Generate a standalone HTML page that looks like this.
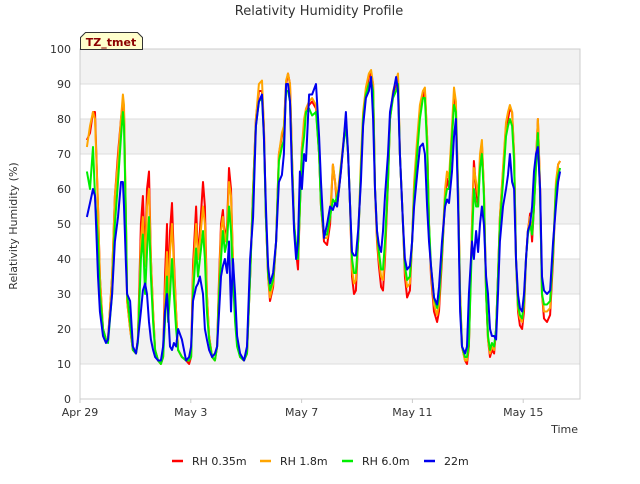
<!DOCTYPE html>
<html><head><meta charset="utf-8">
<style>
body{margin:0;background:#fff;width:640px;height:480px;overflow:hidden;font-family:"DejaVu Sans","Liberation Sans",sans-serif;}
svg text{font-family:"DejaVu Sans","Liberation Sans",sans-serif;}
</style></head><body>
<svg id="chart" width="640" height="480">
<text x="319" y="15" text-anchor="middle" font-size="13" fill="#333">Relativity Humidity Profile</text>
<g id="bands"></g><g id="grid"></g>
<rect x="80" y="49" width="500" height="350" fill="none" stroke="#ccc"/>
<g id="yticks"></g><g id="xticks"></g>
<g id="series"></g>
<text transform="translate(17,226) rotate(-90)" text-anchor="middle" font-size="11" fill="#333">Relativity Humidity (%)</text>
<text x="578" y="433" text-anchor="end" font-size="11" fill="#333">Time</text>
<g>
<path d="M80.5,49.5 L80.5,37.5 L85.5,32.5 L137.5,32.5 L142.5,37.5 L142.5,49.5 Z" fill="#ffffcc" stroke="#333"/>
<text x="111" y="46" text-anchor="middle" font-size="11" font-weight="bold" fill="#8b0000">TZ_tmet</text>
</g>
<g id="legend"></g>
</svg>
<script>
const days=[.25,.36,.47,.54,.65,.72,.83,.94,1.01,1.16,1.26,1.37,1.48,1.55,1.59,1.66,1.70,1.81,1.91,2.02,2.09,2.20,2.27,2.35,2.42,2.49,2.56,2.64,2.71,2.82,2.92,3.00,3.07,3.14,3.18,3.25,3.32,3.39,3.47,3.54,3.68,3.83,3.94,4.01,4.08,4.19,4.26,4.33,4.44,4.51,4.58,4.66,4.77,4.87,4.95,5.02,5.09,5.16,5.23,5.31,5.38,5.45,5.52,5.60,5.67,5.78,5.92,6.03,6.14,6.25,6.35,6.46,6.57,6.64,6.71,6.79,6.86,6.97,7.08,7.18,7.29,7.36,7.44,7.51,7.58,7.65,7.73,7.80,7.87,7.94,8.01,8.09,8.16,8.27,8.38,8.52,8.63,8.70,8.81,8.92,9.03,9.13,9.21,9.28,9.35,9.42,9.53,9.60,9.68,9.75,9.82,9.89,9.96,10.04,10.14,10.22,10.32,10.43,10.51,10.58,10.65,10.72,10.79,10.87,10.94,11.01,11.12,11.19,11.30,11.41,11.48,11.55,11.66,11.73,11.81,11.91,11.99,12.06,12.17,12.27,12.38,12.45,12.53,12.60,12.67,12.78,12.89,12.96,13.07,13.18,13.25,13.32,13.43,13.50,13.57,13.65,13.72,13.79,13.90,13.97,14.04,14.15,14.22,14.30,14.37,14.44,14.51,14.58,14.66,14.73,14.80,14.87,14.95,15.02,15.09,15.16,15.27,15.38,15.45,15.52,15.60,15.67,15.74,15.81,15.88,15.96,16.03,16.10,16.17,16.25,16.32,16.39,16.46,16.53,16.61,16.68,16.75,16.86,16.97,17.08,17.18,17.26,17.33];
const rh035=[74,76,82,82,55,35,20,17,17,35,58,70,80,85,82,50,28,20,14,13,17,50,58,40,60,65,40,25,14,11,10,12,35,50,30,48,56,40,25,14,12,11,10,12,38,55,40,48,62,55,30,18,12,11,15,35,50,54,45,50,66,60,40,25,16,12,11,13,35,60,80,88,88,78,52,35,28,32,45,70,75,77,90,93,90,70,50,42,37,55,72,78,82,84,85,83,70,55,45,44,50,67,62,55,60,65,75,80,70,55,35,30,31,45,65,80,88,92,93,90,60,45,38,32,31,40,62,80,87,90,92,70,50,35,29,31,45,60,72,82,86,88,75,50,35,25,22,25,40,58,63,60,75,86,82,60,30,15,11,10,15,50,68,60,55,68,73,60,30,17,12,14,13,20,35,52,65,78,80,83,82,70,40,25,21,20,25,40,48,53,45,55,68,80,60,30,23,22,24,40,60,67,68];
const rh18=[72,78,82,80,55,35,20,17,17,35,58,68,80,87,84,50,28,20,14,13,17,45,52,38,55,60,40,25,14,11,10,12,30,42,28,42,50,38,25,14,12,11,11,12,35,50,40,45,55,50,30,18,12,11,15,33,48,52,45,48,62,58,40,25,16,12,11,13,35,60,80,90,91,78,52,35,29,33,45,70,76,78,91,93,90,70,50,43,40,55,72,80,83,85,86,84,70,55,46,46,52,67,62,57,62,67,75,80,70,55,37,33,34,45,68,82,89,93,94,90,60,46,40,35,34,42,64,80,88,91,93,70,50,37,32,33,45,62,74,84,88,89,75,50,36,27,24,27,42,60,65,63,78,89,85,60,30,15,11,11,16,50,66,62,58,70,74,60,30,17,13,15,14,20,35,52,66,79,82,84,82,70,40,26,23,22,27,40,48,52,47,55,68,80,60,30,25,25,26,42,62,67,68];
const rh60=[65,60,72,58,45,30,20,17,16,30,50,62,75,82,78,50,30,22,14,13,16,40,47,30,42,52,35,22,14,11,10,12,22,35,22,30,40,30,20,14,12,11,11,12,30,43,35,40,48,40,25,17,12,11,15,30,40,48,42,45,55,48,35,22,15,12,11,13,35,58,78,85,86,75,52,36,31,34,45,68,72,74,88,88,85,68,50,44,40,55,70,75,82,83,81,82,70,55,47,47,52,57,56,58,60,66,74,78,70,55,40,36,36,45,65,80,87,90,91,88,60,48,42,37,37,45,62,80,86,88,90,70,50,38,34,35,45,58,70,80,86,86,72,50,38,29,26,29,42,57,60,60,75,84,82,58,28,15,12,12,16,45,60,55,55,66,70,58,30,18,14,16,15,20,35,50,62,75,78,80,78,68,40,27,24,23,28,40,47,50,47,55,66,76,58,30,27,27,28,42,60,64,66];
const rh22=[52,56,60,58,35,25,18,16,17,30,45,52,62,62,55,38,30,28,15,13,17,25,31,33,30,22,17,14,12,11,11,15,25,30,25,15,14,16,15,20,17,11,12,15,28,32,33,35,30,20,17,14,12,13,15,25,35,38,40,36,45,25,40,30,18,13,11,15,40,52,78,85,87,75,55,38,33,36,45,62,64,70,90,90,85,65,48,40,45,65,60,70,68,87,87,90,75,62,46,50,55,54,56,55,60,65,75,82,70,55,42,41,41,48,62,78,86,88,92,80,60,48,44,42,48,58,70,82,87,92,88,70,50,40,37,38,45,55,64,72,73,70,55,45,38,29,27,32,45,55,57,56,65,75,80,55,25,15,13,15,30,45,40,48,42,50,55,50,35,30,20,18,18,17,30,45,55,60,64,70,62,60,40,30,26,25,30,40,48,50,55,65,70,72,60,35,31,30,31,45,55,62,65];
const seriesNames=["RH 0.35m","RH 1.8m","RH 6.0m","22m"];
const yTicks=[0,10,20,30,40,50,60,70,80,90,100];
const xTickLabels=["Apr 29","May 3","May 7","May 11","May 15"];
const xTickDays=[0,4,8,12,16];
const colors=["#ff0000","#ffa500","#00ee00","#0000ee"];
const allSeries=[rh035,rh18,rh60,rh22];
const NS="http://www.w3.org/2000/svg";
const X0=80,X1=580,Y0=399,Y1=49,DMAX=18.05;
const xs=d=>X0+d/DMAX*(X1-X0);
const ys=v=>Y0-v/100*(Y0-Y1);
function mk(tag,attrs,parent){const e=document.createElementNS(NS,tag);for(const k in attrs)e.setAttribute(k,attrs[k]);parent.appendChild(e);return e;}
const bands=document.getElementById('bands'),grid=document.getElementById('grid'),yt=document.getElementById('yticks'),xt=document.getElementById('xticks');
mk('rect',{x:X0,y:Y1,width:X1-X0,height:Y0-Y1,fill:'#fff'},bands);
for(let i=0;i<yTicks.length-1;i++){if(i%2===1){const r=mk('rect',{x:X0,y:ys(yTicks[i+1]),width:X1-X0,height:ys(yTicks[i])-ys(yTicks[i+1]),fill:'#f2f2f2'},bands);

}}
yTicks.forEach(v=>{const l=mk('line',{x1:X0,x2:X1,y1:ys(v),y2:ys(v),stroke:'#dddddd'},grid);


const t=mk('text',{x:71,y:ys(v)+4,'text-anchor':'end','font-size':11,fill:'#333'},yt);t.textContent=v;

});
xTickDays.forEach((d,i)=>{const t=mk('text',{x:xs(d),y:416,'text-anchor':'middle','font-size':11,fill:'#333'},xt);t.textContent=xTickLabels[i];


mk('line',{x1:xs(d),x2:xs(d),y1:Y0,y2:Y0+4,stroke:'#ccc'},xt);});
const sg=document.getElementById('series');
allSeries.forEach((vals,si)=>{const n=Math.min(vals.length,days.length);let d='';for(let i=0;i<n;i++){d+=(i?'L':'M')+xs(days[i]).toFixed(1)+','+ys(vals[i]).toFixed(1);}
const p=mk('path',{d:d,fill:'none',stroke:colors[si],'stroke-width':2,'stroke-linejoin':'round'},sg);

});
const lg=document.getElementById('legend');const lx=[172,260,342,424];
seriesNames.forEach((nm,i)=>{const g=mk('g',{},lg);


mk('line',{x1:lx[i],x2:lx[i]+11,y1:461,y2:461,stroke:colors[i],'stroke-width':2.5},g);
const t=mk('text',{x:lx[i]+20,y:465,'font-size':11,fill:'#222'},g);t.textContent=nm;});
</script>
</body></html>
